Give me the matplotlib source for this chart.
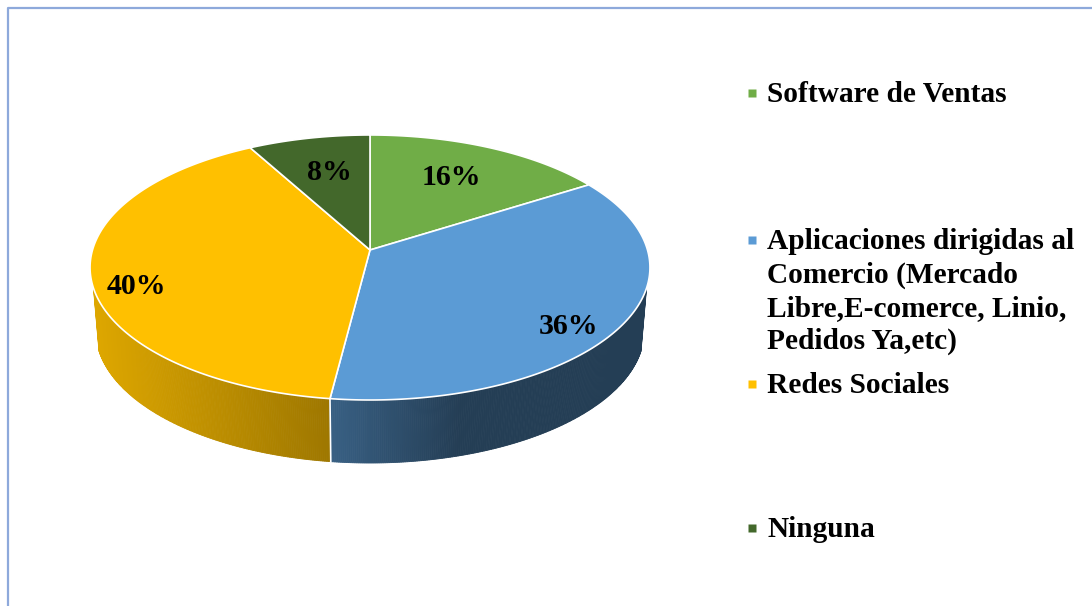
import numpy as np
import matplotlib
matplotlib.use("Agg")
import matplotlib.pyplot as plt
from matplotlib.patches import Polygon
from matplotlib.colors import to_rgb

plt.rcParams["font.family"] = ["Liberation Serif", "DejaVu Serif"]

# data
categories = ["Software de Ventas",
              "Aplicaciones dirigidas al\nComercio (Mercado\nLibre,E-comerce, Linio,\nPedidos Ya,etc)",
              "Redes Sociales",
              "Ninguna"]
values = [16, 36, 40, 8]
colors = ["#70AD47", "#5B9BD5", "#FFC000", "#43682B"]

# layout (pixels of a 1092x606 canvas)
CX, CY = 370, 250          # apex of the pie
A, B, K = 277.5, 130.2, 0.132   # radii + perspective strength
H = 63                     # thickness of the wall
label_pos = [(0.70, 2), (0.85, -6), (0.85, 6), (0.69, -1)]   # (radius, angle nudge)
legend_base = [102, 249, 393, 537]
line_step = 33.3


def proj(t, r=1.0):
    t = np.radians(t)
    u, v = r * np.cos(t), r * np.sin(t)
    d = 1 + K * v
    return CX + A * u / d, CY - B * v / d


def bottom(t):
    x, y = proj(t)
    return CX + 0.98 * (x - CX), y + H


def wall_shade(x):
    return np.interp(x, [93, 330, 460, 660], [0.87, 0.62, 0.40, 0.40])


fig = plt.figure(figsize=(10.92, 6.06), dpi=100)
ax = fig.add_axes([0, 0, 1, 1])
ax.set_xlim(0, 1092)
ax.set_ylim(606, 0)
ax.axis("off")

# chart border
ax.plot([8, 8, 1092], [606, 8, 8], color="#8EA9DB", lw=1.6, solid_capstyle="butt")

fracs = np.array(values) / sum(values)
starts = 90 - 360 * np.concatenate([[0], np.cumsum(fracs)[:-1]])
ends = starts - 360 * fracs


def slice_of(t):
    for i, (s, e) in enumerate(zip(starts, ends)):
        if (s - t) % 360 < (s - e):
            return i
    return 0


# side wall (front part only)
t_vis = np.linspace(196.3, 343.7, 400)
for a0, a1 in zip(t_vis[:-1], t_vis[1:]):
    i = slice_of(0.5 * (a0 + a1))
    x0, y0 = proj(a0)
    x1, y1 = proj(a1)
    bx0, by0 = bottom(a0)
    bx1, by1 = bottom(a1)
    c = np.array(to_rgb(colors[i])) * wall_shade(0.5 * (x0 + x1))
    ax.add_patch(Polygon([(x0, y0), (x1, y1), (bx1, by1), (bx0, by0)],
                         closed=True, facecolor=c, edgecolor=c, lw=0.6))

# white seams on the wall between slices
for e in ends:
    tt = e % 360
    if 196.3 < tt < 343.7:
        x0, y0 = proj(tt)
        bx0, by0 = bottom(tt)
        ax.plot([x0, bx0], [y0, by0], color="white", lw=1.2)

# top face
for i, (s, e) in enumerate(zip(starts, ends)):
    tt = np.linspace(s, e, 200)
    xs, ys = proj(tt)
    pts = [(CX, CY)] + list(zip(xs, ys))
    ax.add_patch(Polygon(pts, closed=True, facecolor=colors[i],
                         edgecolor="white", lw=1.2, joinstyle="round"))

# percentage labels
for i, (s, e) in enumerate(zip(starts, ends)):
    r, nudge = label_pos[i]
    lx, ly = proj(0.5 * (s + e) + nudge, r)
    ax.text(lx, ly + 3, f"{values[i]}%", ha="center", va="center",
            fontsize=21.5, fontweight="bold", color="black")

# legend
for i, name in enumerate(categories):
    yb = legend_base[i]
    ax.plot(751.5, yb - 9, marker="s", ms=6, color=colors[i], mec="none")
    for k, line in enumerate(name.split("\n")):
        ax.text(767, yb + k * line_step, line, ha="left", va="baseline",
                fontsize=21.2, fontweight="bold", color="black")

fig.savefig("out.png", dpi=100, facecolor="white")
